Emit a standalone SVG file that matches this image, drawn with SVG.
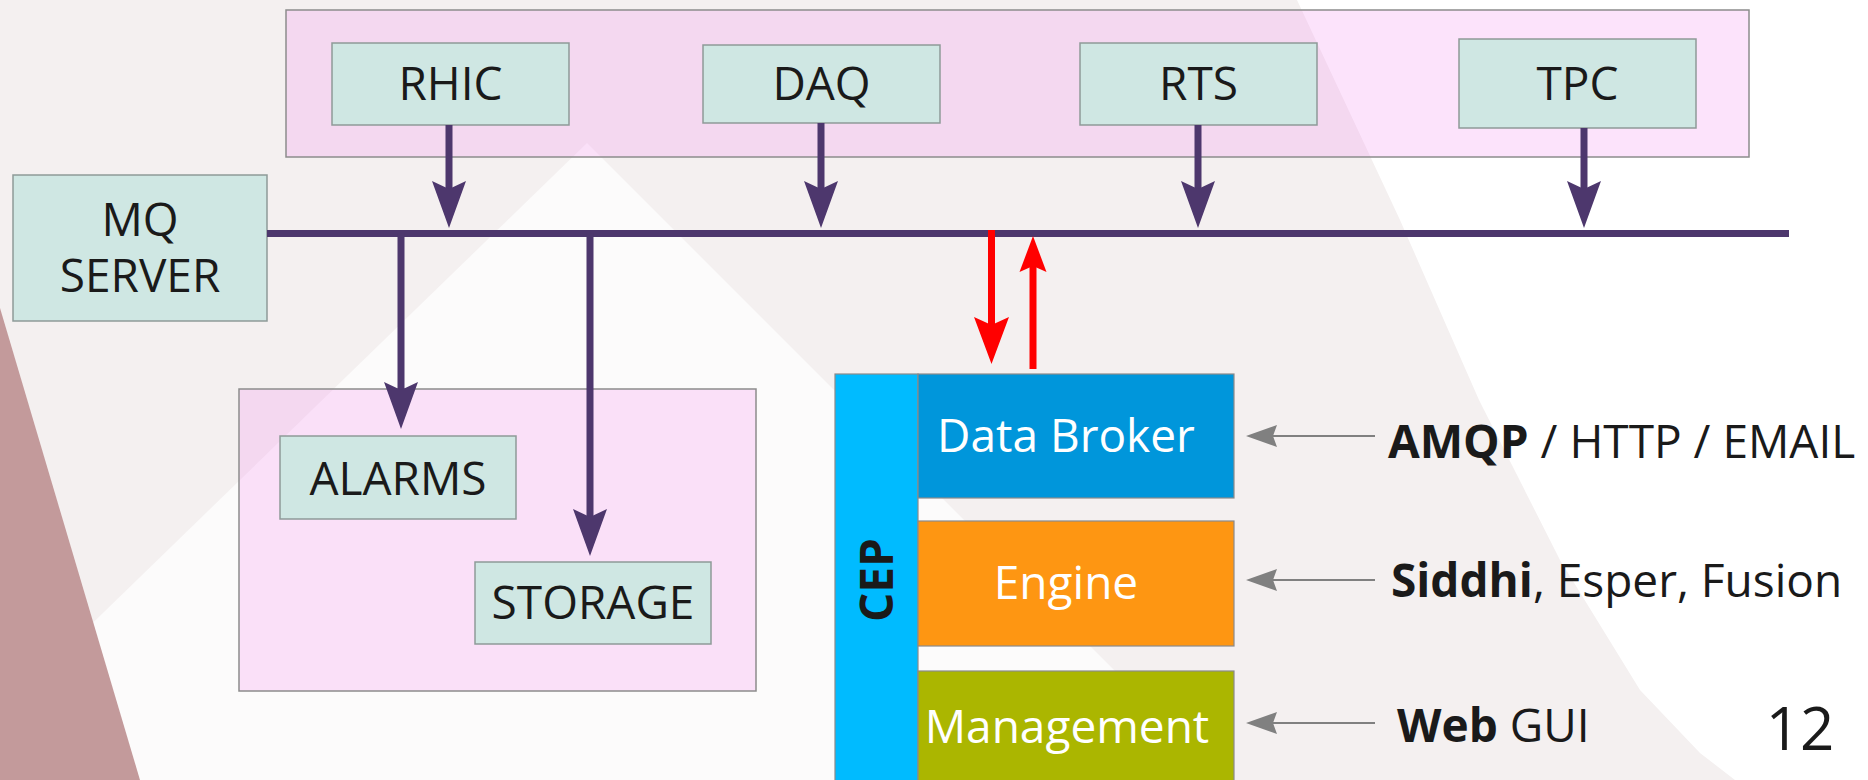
<svg xmlns="http://www.w3.org/2000/svg" width="1868" height="780" viewBox="0 0 1868 780">
<style>
.lbl{font-family:"Open Sans","DejaVu Sans",sans-serif;font-size:46px;fill:#1a1a1a}
.wlbl{font-family:"Open Sans","DejaVu Sans",sans-serif;font-size:46px;fill:#ffffff}
.b{font-weight:bold}
.node{fill:#cfe7e3;stroke:#8e9a98;stroke-width:1.5}
.group{fill:#f290ee;fill-opacity:0.25;stroke:#8c8c8c;stroke-width:1.5}
.bus{stroke:#4d376d;stroke-width:7;fill:none}
.red{stroke:#ff0000;stroke-width:7;fill:none}
.gray{stroke:#808080;stroke-width:2;fill:none}
.cep{stroke:#8a8a8a;stroke-width:1.2}
</style>
<defs>
<marker id="ahP" viewBox="-10 -18 52 36" refX="0" refY="0" markerWidth="52" markerHeight="36" markerUnits="userSpaceOnUse" orient="auto">
<path d="M39,0 L-8,-17 L0,0 L-8,17 Z" fill="#4d376d"/>
</marker>
<marker id="ahR" viewBox="-10 -19 52 38" refX="0" refY="0" markerWidth="52" markerHeight="38" markerUnits="userSpaceOnUse" orient="auto">
<path d="M39,0 L-8,-17.5 L0,0 L-8,17.5 Z" fill="#ff0000"/>
</marker>
<marker id="ahRs" viewBox="-8 -15 40 30" refX="0" refY="0" markerWidth="40" markerHeight="30" markerUnits="userSpaceOnUse" orient="auto">
<path d="M30,0 L-6,-13.5 L0,0 L-6,13.5 Z" fill="#ff0000"/>
</marker>
<marker id="ahG" viewBox="-6 -12 36 24" refX="0" refY="0" markerWidth="36" markerHeight="24" markerUnits="userSpaceOnUse" orient="auto">
<path d="M27,0 L-4,-11 L0,0 L-4,11 Z" fill="#808080"/>
</marker>
</defs>

<g id="background">
<rect x="0" y="0" width="1868" height="780" fill="#f4f0f0"/>
<polygon points="587,143 1224,780 0,780 0,713" fill="#fcfbfb"/>
<polygon points="1297,0 1868,0 1868,780 1735,780 1700,753 1640,690 1560,560 1479,400 1400,220" fill="#ffffff"/>
<polygon points="0,308 140,780 0,780" fill="#c39a9b"/>
</g>

<g id="group-sources"><rect class="group" x="286" y="10" width="1463" height="147"/></g>
<g id="group-consumers"><rect class="group" x="239" y="389" width="517" height="302"/></g>

<g id="node-rhic"><rect class="node" x="332" y="43" width="237" height="82"/><text class="lbl" x="450.5" y="100" text-anchor="middle">RHIC</text></g>
<g id="node-daq"><rect class="node" x="703" y="45" width="237" height="78"/><text class="lbl" x="821.5" y="100" text-anchor="middle">DAQ</text></g>
<g id="node-rts"><rect class="node" x="1080" y="43" width="237" height="82"/><text class="lbl" x="1198.5" y="100" text-anchor="middle">RTS</text></g>
<g id="node-tpc"><rect class="node" x="1459" y="39" width="237" height="89"/><text class="lbl" x="1577.5" y="100" text-anchor="middle">TPC</text></g>
<g id="node-mq"><rect class="node" x="13" y="175" width="254" height="146"/><text class="lbl" x="140" y="236" text-anchor="middle">MQ</text><text class="lbl" x="140" y="292" text-anchor="middle">SERVER</text></g>
<g id="node-alarms"><rect class="node" x="280" y="436" width="236" height="83"/><text class="lbl" x="398" y="495" text-anchor="middle">ALARMS</text></g>
<g id="node-storage"><rect class="node" x="475" y="562" width="236" height="82"/><text class="lbl" x="593" y="619" text-anchor="middle">STORAGE</text></g>

<g id="node-cep">
<rect class="cep" x="835" y="374" width="83" height="410" fill="#00bbff"/>
<text class="lbl b" transform="translate(893,580) rotate(-90)" text-anchor="middle">CEP</text>
</g>
<g id="node-databroker"><rect class="cep" x="918" y="374" width="316" height="124" fill="#0096db"/><text class="wlbl" x="1066" y="452" text-anchor="middle">Data Broker</text></g>
<g id="node-engine"><rect class="cep" x="918" y="521" width="316" height="125" fill="#fe9612"/><text class="wlbl" x="1066" y="599" text-anchor="middle">Engine</text></g>
<g id="node-management"><rect class="cep" x="918" y="671" width="316" height="115" fill="#abb600"/><text class="wlbl" x="1067" y="743" text-anchor="middle">Management</text></g>

<g id="connectors">
<line class="bus" x1="267" y1="233.5" x2="1789" y2="233.5"/>
<line class="bus" x1="449" y1="125" x2="449" y2="189" marker-end="url(#ahP)"/>
<line class="bus" x1="821" y1="123" x2="821" y2="189" marker-end="url(#ahP)"/>
<line class="bus" x1="1198" y1="125" x2="1198" y2="189" marker-end="url(#ahP)"/>
<line class="bus" x1="1584" y1="128" x2="1584" y2="189" marker-end="url(#ahP)"/>
<line class="bus" x1="401" y1="233" x2="401" y2="390" marker-end="url(#ahP)"/>
<line class="bus" x1="590" y1="233" x2="590" y2="517" marker-end="url(#ahP)"/>
<line class="red" x1="991.5" y1="230" x2="991.5" y2="325" marker-end="url(#ahR)"/>
<line class="red" x1="1033" y1="369" x2="1033" y2="266" marker-end="url(#ahRs)"/>
<line class="gray" x1="1375" y1="436" x2="1273" y2="436" marker-end="url(#ahG)"/>
<line class="gray" x1="1375" y1="580" x2="1273" y2="580" marker-end="url(#ahG)"/>
<line class="gray" x1="1375" y1="723" x2="1273" y2="723" marker-end="url(#ahG)"/>
</g>

<g id="labels">
<text class="lbl" x="1388" y="458"><tspan class="b">AMQP</tspan> / HTTP / EMAIL</text>
<text class="lbl" x="1391" y="597"><tspan class="b">Siddhi</tspan>, Esper, Fusion</text>
<text class="lbl" x="1397" y="742"><tspan class="b">Web</tspan> GUI</text>
<text class="lbl" x="1800" y="750" text-anchor="middle" style="font-size:60px">12</text>
</g>
</svg>
